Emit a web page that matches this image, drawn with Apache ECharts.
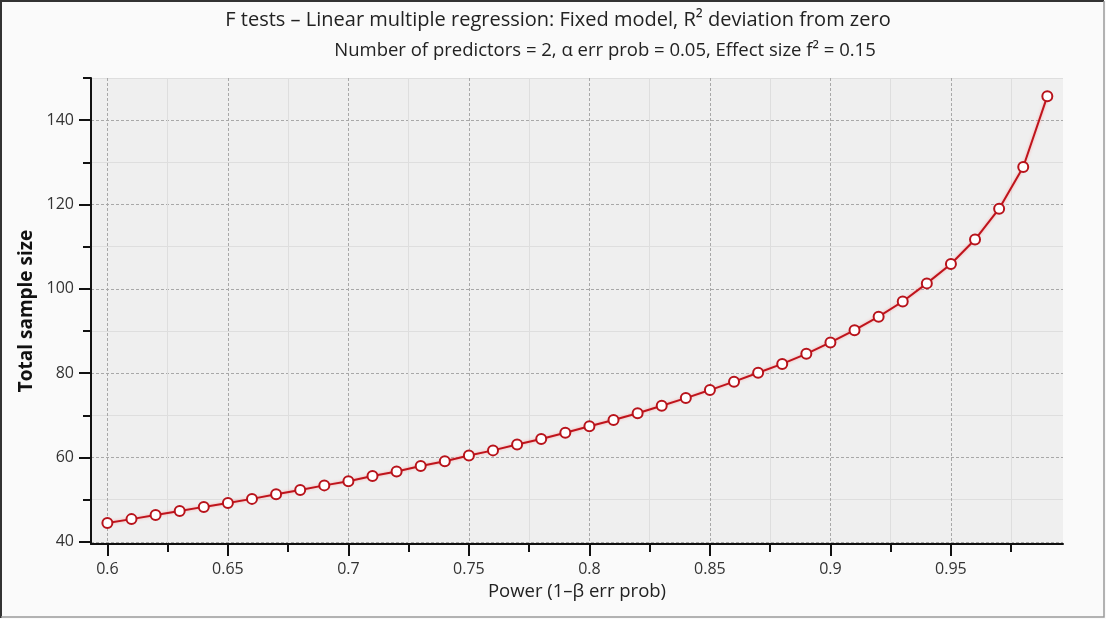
<!DOCTYPE html>
<html>
<head>
<meta charset="utf-8">
<title>Total sample size vs power</title>
<script src="https://cdn.jsdelivr.net/npm/echarts@6.0.0/dist/echarts.min.js"></script>
<style>
    html, body { margin: 0; padding: 0; background: #fafafa; }
    #chart { width: 1106px; height: 619px; }
</style>
</head>
<body>
<div id="chart"></div>
<script>
// 讀圖取得的數值
const power = [0.60, 0.61, 0.62, 0.63, 0.64, 0.65, 0.66, 0.67, 0.68, 0.69,
               0.70, 0.71, 0.72, 0.73, 0.74, 0.75, 0.76, 0.77, 0.78, 0.79,
               0.80, 0.81, 0.82, 0.83, 0.84, 0.85, 0.86, 0.87, 0.88, 0.89,
               0.90, 0.91, 0.92, 0.93, 0.94, 0.95, 0.96, 0.97, 0.98, 0.99];
const sampleSize = [44.5, 45.4, 46.4, 47.3, 48.3, 49.2, 50.2, 51.3, 52.3, 53.4,
                    54.4, 55.6, 56.7, 58.0, 59.1, 60.5, 61.7, 63.1, 64.4, 65.9,
                    67.4, 68.9, 70.5, 72.3, 74.1, 76.0, 78.0, 80.1, 82.2, 84.6,
                    87.3, 90.2, 93.4, 97.0, 101.3, 105.9, 111.7, 119.0, 128.9, 145.7];

// 刻度
const xMajorTicks = [0.6, 0.65, 0.7, 0.75, 0.8, 0.85, 0.9, 0.95];
const xMinorTicks = [0.625, 0.675, 0.725, 0.775, 0.825, 0.875, 0.925, 0.975];
const yMajorTicks = [40, 60, 80, 100, 120, 140];
const yMinorTicks = [50, 70, 90, 110, 130, 150];

const titleText = 'F tests \u2013 Linear multiple regression: Fixed model, R\u00b2 deviation from zero';
const subTitleText = 'Number of predictors = 2, \u03b1 err prob = 0.05, Effect size f\u00b2 = 0.15';
const xName = 'Power (1\u2013\u03b2 err prob)';
const yName = 'Total sample size';

const FONT = '"Open Sans", "DejaVu Sans", sans-serif';
const X_MIN = 0.5932, X_MAX = 0.9965;
const Y_MIN = 39.5, Y_MAX = 150;

const chart = echarts.init(document.getElementById('chart'));

const majorAxisBase = {
    axisLine: { show: true, onZero: false, lineStyle: { color: '#111', width: 2 } },
    axisTick: { show: true, inside: false, length: 12, lineStyle: { color: '#111', width: 2 } },
    splitLine: { show: true, lineStyle: { color: '#a8a8a8', type: [3, 2], width: 1 } }
};
const minorAxisBase = {
    axisLine: { show: false },
    axisLabel: { show: false },
    axisTick: { show: true, inside: false, length: 8, lineStyle: { color: '#111', width: 2 } },
    splitLine: { show: true, lineStyle: { color: '#dedede', type: 'solid', width: 1 } }
};

chart.setOption({
    backgroundColor: '#fafafa',
    animation: false,
    textStyle: { fontFamily: FONT },
    title: [
        {
            text: titleText, left: 553, top: 5, textAlign: 'center',
            textStyle: { fontFamily: FONT, fontSize: 20, fontWeight: 'normal', color: '#222' }
        },
        {
            text: subTitleText, left: 600, top: 36, textAlign: 'center',
            textStyle: { fontFamily: FONT, fontSize: 18.5, fontWeight: 'normal', color: '#222' }
        }
    ],
    grid: {
        left: 91, right: 43, top: 78, bottom: 75,
        show: true, backgroundColor: '#efefef', borderWidth: 0
    },
    xAxis: [
        Object.assign({}, majorAxisBase, {
            type: 'value', min: X_MIN, max: X_MAX, position: 'bottom',
            name: xName, nameLocation: 'middle', nameGap: 37,
            nameTextStyle: { fontFamily: FONT, fontSize: 18.5, color: '#222' },
            axisLabel: {
                color: '#333', fontSize: 16, margin: 17, fontFamily: FONT,
                customValues: xMajorTicks,
                formatter: v => String(+v.toFixed(3))
            },
            axisTick: Object.assign({}, majorAxisBase.axisTick, { customValues: xMajorTicks })
        }),
        Object.assign({}, minorAxisBase, {
            type: 'value', min: X_MIN, max: X_MAX, position: 'bottom',
            axisTick: Object.assign({}, minorAxisBase.axisTick, { customValues: xMinorTicks })
        })
    ],
    yAxis: [
        Object.assign({}, majorAxisBase, {
            type: 'value', min: Y_MIN, max: Y_MAX, position: 'left',
            name: yName, nameLocation: 'middle', nameGap: 55, nameRotate: 90,
            nameTextStyle: { fontFamily: FONT, fontSize: 19, fontWeight: 'bold', color: '#111' },
            axisLabel: {
                color: '#333', fontSize: 16, margin: 17, fontFamily: FONT,
                customValues: yMajorTicks
            },
            axisTick: Object.assign({}, majorAxisBase.axisTick, { customValues: yMajorTicks })
        }),
        Object.assign({}, minorAxisBase, {
            type: 'value', min: Y_MIN, max: Y_MAX, position: 'left',
            axisTick: Object.assign({}, minorAxisBase.axisTick, { customValues: yMinorTicks })
        })
    ],
    graphic: [
        {
            type: 'polyline', silent: true,
            shape: { points: [[1, 618], [1, 1], [1104, 1]] },
            style: { stroke: '#333', lineWidth: 2, fill: null }
        },
        {
            type: 'polyline', silent: true,
            shape: { points: [[1104, 1], [1104, 617], [1, 617]] },
            style: { stroke: '#9a9a9a', lineWidth: 1.5, fill: null }
        }
    ],
    series: [{
        type: 'line',
        xAxisIndex: 0,
        yAxisIndex: 0,
        data: power.map((p, i) => [p, sampleSize[i]]),
        symbol: 'circle',
        symbolSize: 10,
        lineStyle: { color: '#bf141c', width: 2, shadowColor: 'rgba(255,110,110,0.55)', shadowBlur: 3 },
        itemStyle: { color: '#fff', borderColor: '#b8131b', borderWidth: 2 },
        z: 5
    }]
});
</script>
</body>
</html>
